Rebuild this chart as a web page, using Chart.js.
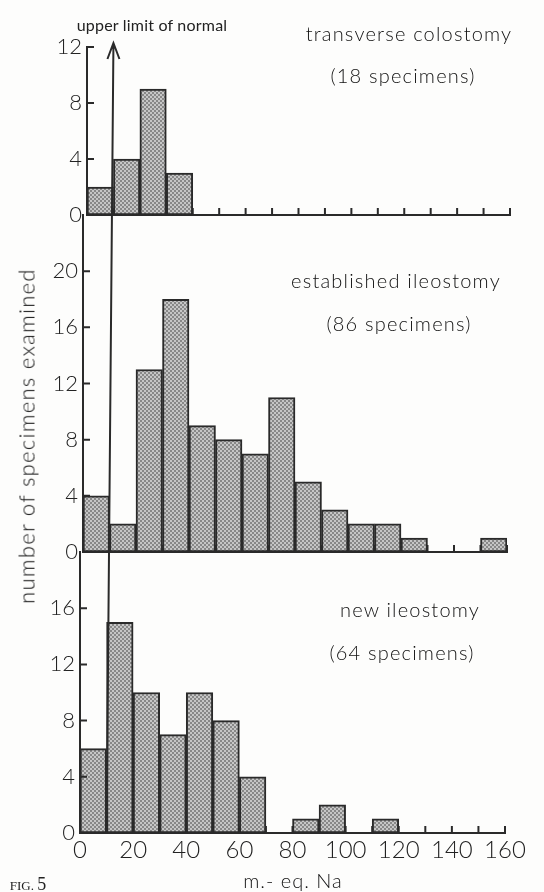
<!DOCTYPE html>
<html lang="en">
<head>
<meta charset="UTF-8">
<title>Fig. 5</title>
<script src="https://cdn.jsdelivr.net/npm/chart.js"></script>
<style>
  body { margin: 0; background: #fdfdfc; }
  #wrap { position: relative; width: 544px; height: 892px; overflow: hidden; font-family: Lato, "Noto Sans", sans-serif; color: #222; }
  #wrap canvas { position: absolute; left: 0; top: 0; }
  .lbl { position: absolute; white-space: nowrap; transform: translate(-50%, -50%); font-weight: 300; }
  .panel { font-size: 20px; letter-spacing: 1.2px; color: #111; }
  #ylab { left: 26px; top: 436px; font-size: 22px; letter-spacing: 1.3px; color: #111; transform: translate(-50%, -50%) rotate(-90deg); }
  #fig { left: 28px; top: 884px; font-family: "Liberation Serif", serif; font-size: 13px; font-weight: 400; }
  #fig b { font-size: 18px; font-weight: 400; }
</style>
</head>
<body>
<div id="wrap">
  <canvas id="c1" width="544" height="892"></canvas>
  <canvas id="c2" width="544" height="892"></canvas>
  <canvas id="c3" width="544" height="892"></canvas>

  <div class="lbl" style="left:152px; top:24px; font-size:16px; letter-spacing:0.2px; font-weight:400;">upper limit of normal</div>
  <div class="lbl panel" style="left:409px; top:33px;">transverse colostomy</div>
  <div class="lbl panel" style="left:403px; top:75px;">(18 specimens)</div>
  <div class="lbl panel" style="left:396px; top:280px;">established ileostomy</div>
  <div class="lbl panel" style="left:399px; top:323px;">(86 specimens)</div>
  <div class="lbl panel" style="left:410px; top:609px;">new ileostomy</div>
  <div class="lbl panel" style="left:402px; top:652px;">(64 specimens)</div>
  <div class="lbl" id="ylab">number of specimens examined</div>
  <div class="lbl" style="left:293px; top:880px; font-size:20px; letter-spacing:1px; color:#111;">m.- eq. Na</div>
  <div class="lbl" id="fig">FIG. <b>5</b></div>
</div>
<script>
// bins of 10 m.-eq. Na, given by their centres
const binCentres = [5, 15, 25, 35, 45, 55, 65, 75, 85, 95, 105, 115, 125, 135, 145, 155];
const colostomyCounts = [2, 4, 9, 3, 0, 0, 0, 0, 0, 0, 0, 0, 0, 0, 0, 0];
const establishedCounts = [4, 2, 13, 18, 9, 8, 7, 11, 5, 3, 2, 2, 1, 0, 0, 1];
const newCounts = [6, 15, 10, 7, 10, 8, 4, 0, 1, 2, 0, 1, 0, 0, 0, 0];

const xTicks = [0, 10, 20, 30, 40, 50, 60, 70, 80, 90, 100, 110, 120, 130, 140, 150, 160];
const xTickLabels = [0, 20, 40, 60, 80, 100, 120, 140, 160];
const colostomyYTicks = [0, 4, 8, 12];
const establishedYTicks = [0, 4, 8, 12, 16, 20];
const newYTicks = [0, 4, 8, 12, 16];
const normalLimit = 10;

const ink = '#2a2a2a';

function stipple() {
  const c = document.createElement('canvas');
  c.width = 4; c.height = 4;
  const g = c.getContext('2d');
  g.fillStyle = '#c6c6c6';
  g.fillRect(0, 0, 4, 4);
  g.fillStyle = '#888';
  g.fillRect(0, 0, 2, 2);
  g.fillRect(2, 2, 2, 2);
  return g.createPattern(c, 'repeat');
}
const fill = stipple();

// short tick marks pointing into the plot
const innerTicks = {
  id: 'innerTicks',
  afterDraw(chart, args, opts) {
    const { ctx, scales: { x, y } } = chart;
    ctx.save();
    ctx.strokeStyle = ink;
    ctx.lineWidth = 2;
    ctx.beginPath();
    opts.yTicks.forEach(v => {
      const py = y.getPixelForValue(v);
      ctx.moveTo(x.left, py);
      ctx.lineTo(x.left + 7, py);
    });
    xTicks.forEach(v => {
      const px = x.getPixelForValue(v);
      ctx.moveTo(px, y.bottom);
      ctx.lineTo(px, y.bottom - 7);
    });
    ctx.stroke();
    ctx.restore();
  }
};

function makePanel(id, counts, yMax, yTicks, box, showX) {
  return new Chart(document.getElementById(id), {
    type: 'bar',
    data: {
      datasets: [{
        data: binCentres.map((c, i) => ({ x: c, y: counts[i] })),
        backgroundColor: fill,
        borderColor: ink,
        borderWidth: 2,
        borderSkipped: false,
        barPercentage: 1,
        categoryPercentage: 1
      }]
    },
    options: {
      responsive: false,
      animation: false,
      events: [],
      layout: { padding: { left: 0, right: 544 - box.right, top: box.top, bottom: 892 - box.bottom - box.xh } },
      plugins: { legend: { display: false }, tooltip: { enabled: false }, innerTicks: { yTicks: yTicks } },
      scales: {
        x: {
          type: 'linear', min: 0, max: 160, offset: false,
          grid: { display: false, drawTicks: false, offset: false },
          border: { display: true, color: ink, width: 2 },
          ticks: {
            display: showX, stepSize: 20, autoSkip: false, maxRotation: 0, padding: 3,
            color: '#222', font: { family: 'Lato', size: 24, weight: 300 },
            callback: v => xTickLabels.includes(v) ? String(v) : ''
          },
          afterFit: s => { s.height = box.xh; }
        },
        y: {
          min: 0, max: yMax,
          grid: { display: false, drawTicks: false },
          border: { display: true, color: ink, width: 2 },
          ticks: {
            stepSize: 4, padding: 5,
            color: '#222', font: { family: 'Lato', size: 22, weight: 300 },
            callback: v => yTicks.includes(v) ? String(v) : ''
          },
          afterFit: s => { s.width = box.left; }
        }
      }
    },
    plugins: [innerTicks]
  });
}

const topChart = makePanel('c1', colostomyCounts, 12, colostomyYTicks,
  { left: 87, right: 510, top: 47, bottom: 215, xh: 0 }, false);
const midChart = makePanel('c2', establishedCounts, 24, establishedYTicks,
  { left: 83, right: 507, top: 215, bottom: 552, xh: 0 }, false);

// the "upper limit of normal" arrow runs through all three panels
const normalArrow = {
  id: 'normalArrow',
  afterDraw(chart) {
    const { ctx } = chart;
    const x0 = topChart.scales.x.getPixelForValue(normalLimit);
    const x1 = chart.scales.x.getPixelForValue(normalLimit);
    const yTip = topChart.scales.y.top - 4;
    ctx.save();
    ctx.strokeStyle = ink;
    ctx.lineWidth = 2;
    ctx.beginPath();
    ctx.moveTo(x0, yTip);
    ctx.lineTo(x1, chart.scales.y.bottom);
    ctx.moveTo(x0 - 6, yTip + 16);
    ctx.lineTo(x0, yTip);
    ctx.lineTo(x0 + 6, yTip + 16);
    ctx.stroke();
    ctx.restore();
  }
};

const newChart = makePanel('c3', newCounts, 20, newYTicks,
  { left: 80, right: 505, top: 552, bottom: 833, xh: 40 }, true);
newChart.config.plugins.push(normalArrow);
newChart.update();
</script>
</body>
</html>
